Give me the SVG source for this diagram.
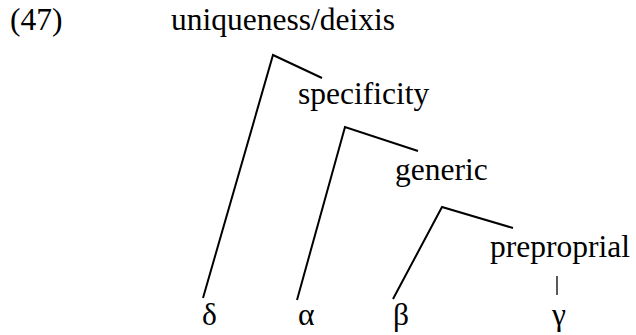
<svg xmlns="http://www.w3.org/2000/svg" width="636" height="335" viewBox="0 0 636 335">
<style>
text{font-family:"Liberation Serif","Times New Roman",serif;font-size:31.5px;fill:#000}
.e{stroke:#000;stroke-width:2;fill:none}
.v{stroke:#000;stroke-width:1.3;fill:none}
</style>
<rect width="636" height="335" fill="#fff"/>
<text x="10" y="30">(47)</text>
<g id="n-uniq"><text x="171" y="30">uniqueness/deixis</text></g>
<g id="n-spec"><text x="298" y="104">specificity</text></g>
<g id="n-gen"><text x="395" y="180">generic</text></g>
<g id="n-prep"><text x="490" y="257">preproprial</text></g>
<g id="n-delta"><text x="202" y="325">δ</text></g>
<g id="n-alpha"><text x="298" y="325">α</text></g>
<g id="n-beta"><text x="393" y="325">β</text></g>
<g id="n-gamma"><text x="552" y="325">γ</text></g>
<g id="edges">
<polyline class="e" points="203,298 273,55 322,78"/>
<polyline class="e" points="297,300 345,127 418,151"/>
<polyline class="e" points="393,299 442,207 513,228"/>
<line class="v" x1="557" y1="276" x2="557" y2="295"/>
</g>
</svg>
